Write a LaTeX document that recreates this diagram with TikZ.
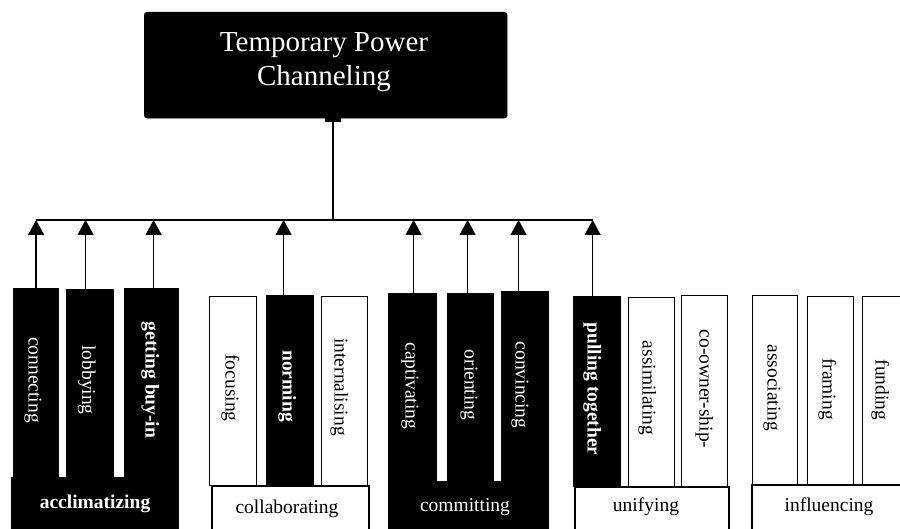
\documentclass[tikz,border=0pt]{standalone}
\usepackage{fontspec}
\setmainfont{Liberation Serif}
\usetikzlibrary{arrows.meta}
\tikzset{
  lbl/.style={font=\fontsize{19.5}{22}\selectfont, inner sep=0pt, text height=0.68em, text depth=0.22em},
  vlbl/.style={lbl, rotate=-90},
  blackbar/.style={draw=black, fill=black, line width=1.2pt, inner sep=0pt, anchor=north west},
  whitebar/.style={draw=black, fill=white, line width=1.2pt, inner sep=0pt, anchor=north west},
  groupw/.style={draw=black, fill=white, line width=1.8pt, inner sep=0pt, anchor=north west},
  arr/.style={line width=1.3pt, -{Triangle[width=16pt,length=15pt]}},
  wtxt/.style={text=white},
  btxt/.style={text=black},
}
\newcommand{\barbox}[6]{% style, name, x1, y1, x2, y2
  \node[#1, minimum width=#5-#3, minimum height=#6-#4] (#2) at (#3,#4) {};}
\begin{document}
\begin{tikzpicture}[x=1pt,y=-1pt]
\useasboundingbox (0,0) rectangle (900,529);
\clip (0,0) rectangle (900,529);
\fill[white] (0,0) rectangle (900,529);

% root
\node[fill=black, draw=black, rounded corners=3pt, minimum width=363, minimum height=106, inner sep=0pt,
      anchor=north west] (root) at (144,12) {};
\node[text=white, align=center, font=\fontsize{29}{34}\selectfont, inner sep=0pt] (roottxt) at (324,62)
  {Temporary Power\\Channeling};

% acclimatizing group
\barbox{blackbar}{connecting}{13}{288}{58}{482}
\barbox{blackbar}{lobbying}{66}{289}{113}{482}
\barbox{blackbar}{buyin}{124}{288}{178}{482}
\node[blackbar, minimum width=167, minimum height=70] (acclim) at (11,477) {};

% collaborating group
\barbox{whitebar}{focusing}{209}{296}{256}{485}
\barbox{blackbar}{norming}{266}{295}{313}{485}
\barbox{whitebar}{internalising}{321}{296}{367}{485}
\node[groupw, minimum width=157, minimum height=60] (collab) at (211,485) {};

% committing group
\barbox{blackbar}{captivating}{388}{293}{436}{486}
\barbox{blackbar}{orienting}{447}{293}{493}{486}
\barbox{blackbar}{convincing}{501}{291}{548}{486}
\node[blackbar, minimum width=160, minimum height=65] (commit) at (388,481) {};

% unifying group
\barbox{blackbar}{pulling}{573}{296}{620}{486}
\barbox{whitebar}{assimilating}{628}{297}{674}{486}
\barbox{whitebar}{coowner}{681}{295}{727}{486}
\node[groupw, minimum width=154, minimum height=60] (unify) at (574,486) {};

% influencing group
\barbox{whitebar}{associating}{752}{295}{797}{484}
\barbox{whitebar}{framing}{807}{296}{853}{484}
\barbox{whitebar}{funding}{862}{296}{912}{484}
\node[groupw, minimum width=170, minimum height=60] (influ) at (751,484) {};

% vertical labels
\node[vlbl, wtxt] at (31,380) {connecting};
\node[vlbl, wtxt] at (84.5,380) {lobbying};
\node[vlbl, wtxt, font=\fontsize{19.5}{22}\selectfont\bfseries] at (148,380) {getting buy-in};
\node[vlbl, btxt] at (228,388) {focusing};
\node[vlbl, wtxt, font=\fontsize{19.5}{22}\selectfont\bfseries] at (285,386) {norming};
\node[vlbl, btxt] at (337,387) {internalising};
\node[vlbl, wtxt] at (408,386) {captivating};
\node[vlbl, wtxt] at (467,385) {orienting};
\node[vlbl, wtxt] at (518,385) {convincing};
\node[vlbl, wtxt, font=\fontsize{19.5}{22}\selectfont\bfseries] at (590,389) {pulling together};
\node[vlbl, btxt] at (645,388) {assimilating};
\node[vlbl, btxt] at (702,389) {co-owner-ship-};
\node[vlbl, btxt] at (770,388) {associating};
\node[vlbl, btxt] at (825,389) {framing};
\node[vlbl, btxt] at (878,390) {funding};

% group labels
\node[lbl, wtxt, font=\fontsize{19.5}{22}\selectfont\bfseries] at (95,506) {acclimatizing};
\node[lbl, btxt] at (287,511) {collaborating};
\node[lbl, wtxt] at (465,509) {committing};
\node[lbl, btxt] at (646,509) {unifying};
\node[lbl, btxt] at (829,509) {influencing};

% connectors
\coordinate (hub) at (333,220);
\draw[line width=1.3pt] (connecting.north |- hub) -- ([xshift=-4.5pt]pulling.north |- hub);
\draw[line width=1.3pt, -{Rectangle[width=16pt,length=4pt]}] (hub) -- (hub |- root.south);
\draw[arr] (connecting.north) -- (connecting.north |- hub);
\draw[arr] ([xshift=-4.5pt]lobbying.north) -- ([xshift=-4.5pt]lobbying.north |- hub);
\draw[arr] ([xshift=2pt]buyin.north) -- ([xshift=2pt]buyin.north |- hub);
\draw[arr] ([xshift=-6.5pt]norming.north) -- ([xshift=-6.5pt]norming.north |- hub);
\draw[arr] ([xshift=1pt]captivating.north) -- ([xshift=1pt]captivating.north |- hub);
\draw[arr] ([xshift=-3pt]orienting.north) -- ([xshift=-3pt]orienting.north |- hub);
\draw[arr] ([xshift=-6.5pt]convincing.north) -- ([xshift=-6.5pt]convincing.north |- hub);
\draw[arr] ([xshift=-4.5pt]pulling.north) -- ([xshift=-4.5pt]pulling.north |- hub);
\end{tikzpicture}
\end{document}
